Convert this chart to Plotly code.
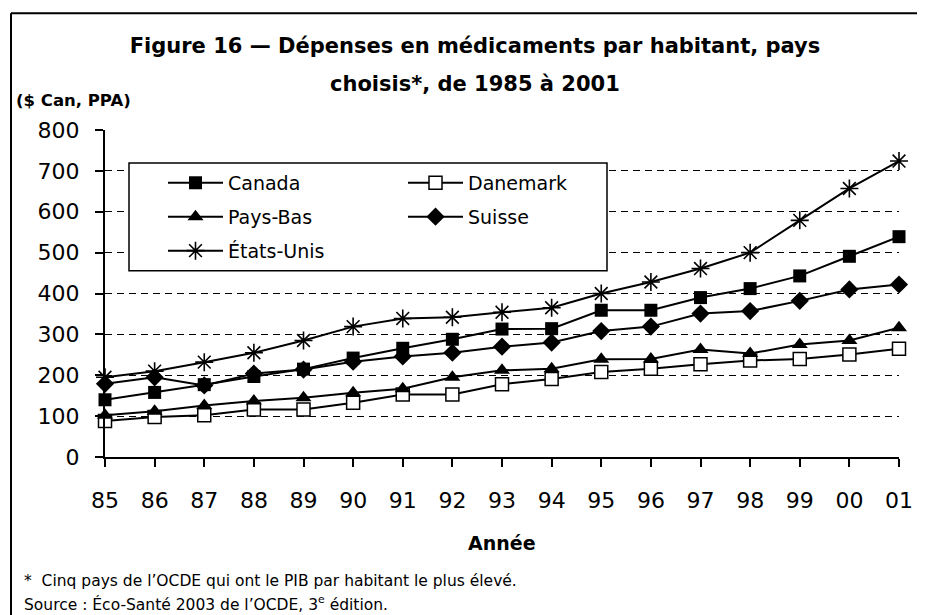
import plotly.graph_objects as go

years = list(range(1985, 2002))
tick_labels = ["85", "86", "87", "88", "89", "90", "91", "92", "93",
               "94", "95", "96", "97", "98", "99", "00", "01"]
y_ticks = [0, 100, 200, 300, 400, 500, 600, 700, 800]

canada = [140, 158, 177, 197, 215, 242, 266, 288, 313, 314, 359, 359, 390, 412, 443, 491, 539]
danemark = [88, 98, 102, 116, 116, 133, 153, 153, 178, 191, 208, 216, 227, 236, 240, 251, 265]
pays_bas = [102, 112, 126, 137, 145, 157, 167, 195, 212, 216, 239, 240, 263, 253, 275, 285, 316]
suisse = [179, 195, 175, 204, 214, 233, 246, 255, 270, 280, 308, 319, 351, 357, 382, 410, 422]
etats_unis = [195, 210, 232, 255, 285, 319, 339, 342, 354, 365, 400, 428, 461, 500, 579, 657, 724]

FONT = "DejaVu Sans"

# page offset of the figure (body margin) and plot-area geometry in page pixels
OFF = 8
L, T, W, H = 105, 130, 794, 327.5


def px(x):
    return (x - L) / W


def py(y):
    return (T + H - y) / H


fig = go.Figure()

specs = [
    ("Canada", canada, dict(symbol="square", size=13, color="black"), "legend"),
    ("Danemark", danemark, dict(symbol="square", size=13, color="white",
                                line=dict(color="black", width=1.5)), "legend"),
    ("Pays-Bas", pays_bas, dict(symbol="triangle-up", size=14, color="black"), "legend2"),
    ("Suisse", suisse, dict(symbol="diamond", size=14, color="black"), "legend2"),
    ("États-Unis", etats_unis, dict(symbol="asterisk", size=15, color="black",
                                    line=dict(color="black", width=1.6)), "legend3"),
]
for name, vals, marker, leg in specs:
    fig.add_trace(go.Scatter(
        x=years, y=vals, name=name, mode="lines+markers",
        line=dict(color="black", width=2), marker=marker,
        cliponaxis=False, legend=leg))

leg_common = dict(orientation="h", xanchor="left", yanchor="middle",
                  bgcolor="rgba(0,0,0,0)", borderwidth=0,
                  font=dict(family=FONT, size=19, color="black"),
                  itemwidth=55, entrywidth=170, entrywidthmode="pixels",
                  itemclick=False, itemdoubleclick=False)

fig.update_layout(
    width=925, height=615, autosize=False,
    margin=dict(l=L - OFF, r=925 - (L - OFF) - W, t=T - OFF,
                b=615 - (T - OFF) - H, pad=0),
    paper_bgcolor="white", plot_bgcolor="white",
    font=dict(family=FONT, color="black"),
    title=dict(text="Figure 16 — Dépenses en médicaments par habitant, pays",
               x=(475 - OFF) / 925, xref="container", xanchor="center",
               y=1 - (46 - OFF) / 615, yref="container", yanchor="middle",
               font=dict(family=FONT, size=21, weight="bold", color="black")),
    xaxis=dict(range=[1985, 2001], tickvals=years, ticktext=tick_labels,
               showgrid=False, zeroline=False, showline=True, linecolor="black",
               linewidth=2, ticks="outside", ticklen=8, tickwidth=2, tickcolor="black",
               ticklabelstandoff=15, tickfont=dict(family=FONT, size=22, color="black")),
    yaxis=dict(range=[0, 800], tickvals=y_ticks, showgrid=True, gridcolor="black",
               gridwidth=1, griddash="7px,5px", zeroline=False, showline=True,
               linecolor="black", linewidth=2, ticks="outside", ticklen=8,
               tickwidth=2, tickcolor="black", ticklabelstandoff=11,
               tickfont=dict(family=FONT, size=22, color="black")),
    legend=dict(x=px(163), y=py(183), **leg_common),
    legend2=dict(x=px(163), y=py(217), **leg_common),
    legend3=dict(x=px(163), y=py(251), **leg_common),
    showlegend=True,
)

# legend box, outer frame
fig.add_shape(type="rect", xref="paper", yref="paper",
              x0=px(129), x1=px(607), y0=py(271), y1=py(163),
              line=dict(color="black", width=1.5), fillcolor="white", layer="above")
fig.add_shape(type="line", xref="paper", yref="paper",
              x0=px(11), x1=px(940), y0=py(13), y1=py(13),
              line=dict(color="black", width=2))
fig.add_shape(type="line", xref="paper", yref="paper",
              x0=px(11), x1=px(11), y0=py(13), y1=py(630),
              line=dict(color="black", width=2))

fig.add_annotation(text="choisis*, de 1985 à 2001", xref="paper", yref="paper",
                   x=px(475), y=py(84), xanchor="center", yanchor="middle",
                   showarrow=False, font=dict(family=FONT, size=21, weight="bold", color="black"))
fig.add_annotation(text="($ Can, PPA)", xref="paper", yref="paper",
                   x=px(14), y=py(100), xanchor="left", yanchor="middle",
                   showarrow=False, font=dict(family=FONT, size=16.5, weight="bold", color="black"))
fig.add_annotation(text="Année", xref="paper", yref="paper",
                   x=0.5, y=py(544), xanchor="center", yanchor="middle",
                   showarrow=False, font=dict(family=FONT, size=19, weight="bold", color="black"))
fig.add_annotation(text="*  Cinq pays de l’OCDE qui ont le PIB par habitant le plus élevé.",
                   xref="paper", yref="paper", x=px(22), y=py(582),
                   xanchor="left", yanchor="middle", showarrow=False,
                   font=dict(family=FONT, size=15.5, color="black"))
fig.add_annotation(text="Source : Éco-Santé 2003 de l’OCDE, 3<sup>e</sup> édition.",
                   xref="paper", yref="paper", x=px(22), y=py(604),
                   xanchor="left", yanchor="middle", showarrow=False,
                   font=dict(family=FONT, size=15.5, color="black"))

fig.write_html("out.html")
